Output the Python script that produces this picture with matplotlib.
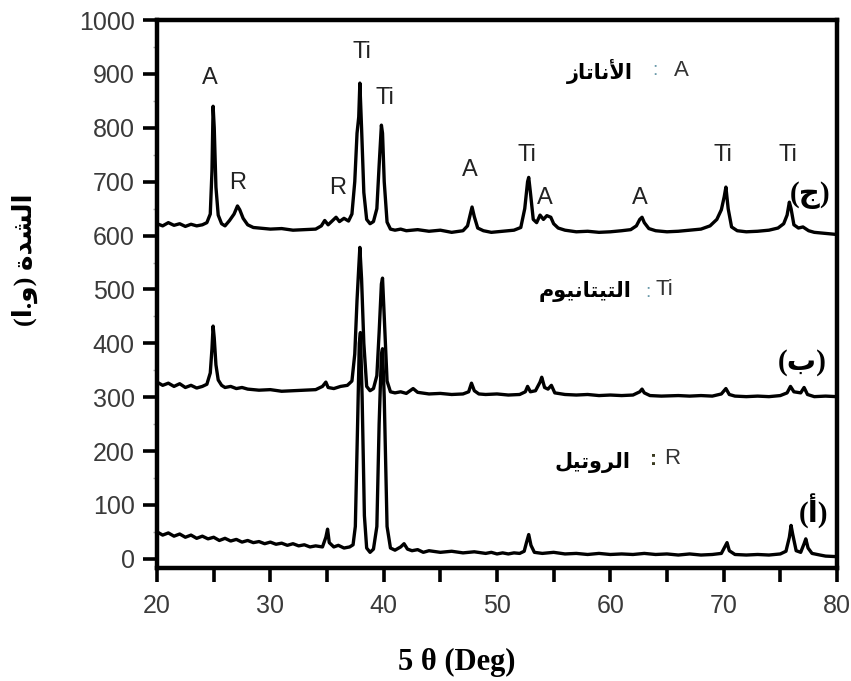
import matplotlib
matplotlib.use("Agg")
import matplotlib.pyplot as plt
from matplotlib.ticker import MultipleLocator

# XRD patterns (2theta in degrees, intensity in a.u.)
# (c) top trace
c_x = [20.0, 20.5, 21.0, 21.5, 22.0, 22.5, 23.0, 23.5, 24.0, 24.4, 24.7, 24.85, 24.95, 25.05,
       25.2, 25.4, 25.7, 26.0, 26.4, 26.8, 27.1, 27.3, 27.6, 28.0, 28.5, 29.0, 30.0, 31.0,
       32.0, 33.0, 34.0, 34.5, 34.8, 35.1, 35.4, 35.8, 36.1, 36.5, 36.9, 37.2, 37.45, 37.65,
       37.8, 37.9, 38.05, 38.25, 38.5, 38.8, 39.1, 39.4, 39.6, 39.8, 39.9, 40.05, 40.3, 40.6,
       41.0, 41.5, 42.0, 43.0, 44.0, 45.0, 46.0, 47.0, 47.4, 47.65, 47.8, 48.0, 48.3, 48.8,
       49.5, 50.5, 51.5, 52.1, 52.45, 52.7, 52.8, 52.95, 53.2, 53.5, 53.8, 54.1, 54.4, 54.75,
       55.0, 55.4, 56.0, 57.0, 58.0, 59.0, 60.0, 61.0, 61.8, 62.3, 62.6, 62.8, 63.0, 63.4,
       64.0, 65.0, 66.0, 67.0, 68.0, 68.8, 69.4, 69.8, 70.05, 70.2, 70.4, 70.7, 71.2, 72.0,
       73.0, 74.0, 74.8, 75.3, 75.6, 75.8, 75.95, 76.2, 76.6, 77.0, 77.5, 78.0, 79.0, 80.0]
c_y = [622, 618, 624, 619, 622, 617, 621, 618, 620, 624, 640, 720, 840, 800,
       690, 638, 622, 618, 628, 640, 655, 648, 632, 620, 615, 614, 612, 613,
       610, 611, 612, 618, 628, 620, 626, 634, 626, 632, 627, 640, 700, 790,
       820, 883, 800, 680, 630, 622, 626, 650, 730, 805, 790, 700, 625, 612,
       610, 612, 609, 611, 608, 610, 606, 609, 618, 640, 653, 635, 614, 609,
       606, 608, 610, 615, 650, 700, 708, 680, 630, 624, 638, 630, 637, 634,
       622, 614, 610, 607, 608, 606, 607, 609, 611, 618, 630, 634, 624, 613,
       609, 607, 608, 610, 612, 618, 630, 648, 672, 690, 650, 616, 609, 607,
       608, 610, 614, 622, 638, 662, 650, 620, 614, 616, 609, 606, 604, 602]

# (b) middle trace
b_x = [20.0, 20.5, 21.0, 21.5, 22.0, 22.5, 23.0, 23.5, 24.0, 24.4, 24.7, 24.85, 24.95, 25.05,
       25.2, 25.4, 25.7, 26.0, 26.5, 27.0, 27.5, 28.0, 29.0, 30.0, 31.0, 32.0, 33.0, 34.0,
       34.6, 34.9, 35.1, 35.6, 36.2, 36.8, 37.2, 37.45, 37.65, 37.8, 37.9, 38.05, 38.25, 38.5,
       38.8, 39.1, 39.4, 39.6, 39.8, 39.9, 40.05, 40.3, 40.6, 41.0, 41.5, 42.0, 42.6, 43.0,
       44.0, 45.0, 46.0, 47.0, 47.5, 47.75, 48.0, 48.4, 49.0, 50.0, 51.0, 52.0, 52.5, 52.7,
       52.95, 53.4, 53.8, 53.95, 54.2, 54.5, 54.8, 55.1, 56.0, 57.0, 58.0, 59.0, 60.0, 61.0,
       62.0, 62.6, 62.8, 63.0, 63.5, 64.5, 66.0, 67.0, 68.0, 69.0, 69.8, 70.2, 70.5, 71.0,
       72.0, 73.0, 74.0, 75.0, 75.6, 75.9, 76.2, 76.8, 77.1, 77.4, 78.0, 79.0, 80.0]
b_y = [328, 322, 326, 320, 325, 318, 322, 317, 320, 324, 345, 390, 432, 410,
       360, 332, 322, 318, 320, 316, 318, 315, 313, 314, 311, 312, 313, 314,
       320, 328, 318, 316, 320, 322, 330, 380, 480, 540, 578, 520, 400, 320,
       312, 316, 340, 420, 510, 521, 450, 330, 310, 308, 310, 307, 316, 309,
       306, 307, 305, 306, 310, 326, 312, 306, 305, 306, 304, 305, 310, 320,
       310, 312, 328, 337, 318, 315, 322, 308, 305, 304, 305, 303, 304, 303,
       304, 310, 315, 308, 303, 302, 303, 302, 303, 302, 306, 316, 305, 302,
       301, 302, 301, 303, 308, 320, 310, 308, 318, 305, 301, 302, 301]

# (a) bottom trace
a_x = [20.0, 20.5, 21.0, 21.5, 22.0, 22.5, 23.0, 23.5, 24.0, 24.5, 25.0, 25.5, 26.0, 26.5,
       27.0, 27.5, 28.0, 28.5, 29.0, 29.5, 30.0, 30.5, 31.0, 31.5, 32.0, 32.5, 33.0, 33.5,
       34.0, 34.6, 34.9, 35.05, 35.2, 35.6, 36.0, 36.5, 37.0, 37.3, 37.5, 37.7, 37.85, 37.95,
       38.1, 38.3, 38.5, 38.8, 39.1, 39.4, 39.6, 39.8, 39.9, 40.05, 40.3, 40.6, 41.0, 41.5,
       41.8, 42.1, 42.5, 43.0, 43.5, 44.0, 45.0, 46.0, 47.0, 48.0, 49.0, 49.5, 50.0, 50.5,
       51.0, 51.5, 52.0, 52.4, 52.6, 52.8, 53.0, 53.3, 54.0, 55.0, 56.0, 57.0, 58.0, 59.0,
       60.0, 61.0, 62.0, 63.0, 64.0, 65.0, 66.0, 67.0, 68.0, 69.0, 69.8, 70.1, 70.3, 70.5,
       71.0, 72.0, 73.0, 74.0, 75.0, 75.5, 75.8, 75.95, 76.1, 76.4, 76.8, 77.1, 77.25, 77.45,
       77.8, 78.5, 79.0, 80.0]
a_y = [50, 44, 48, 42, 46, 40, 44, 38, 42, 37, 40, 34, 38, 33,
       36, 31, 34, 30, 32, 28, 31, 27, 29, 25, 28, 24, 26, 22,
       24, 22, 40, 55, 30, 22, 25, 20, 22, 26, 60, 250, 400, 420,
       300, 80, 20, 12, 18, 60, 250, 380, 390, 300, 60, 20, 16, 22,
       28, 18, 15, 17, 12, 15, 12, 14, 11, 13, 10, 12, 9, 11,
       9, 11, 10, 14, 30, 45, 25, 12, 10, 12, 9, 10, 8, 10,
       8, 9, 8, 10, 8, 9, 7, 9, 7, 8, 10, 22, 30, 15,
       8, 7, 8, 7, 9, 14, 40, 62, 45, 15, 12, 28, 37, 20,
       10, 7, 5, 4]

# peak labels: (text, 2theta, intensity)
peak_labels = [("A", 24.7, 892), ("R", 27.1, 698), ("R", 35.9, 688), ("Ti", 38.1, 941),
               ("Ti", 40.1, 855), ("A", 47.6, 722), ("Ti", 52.6, 750), ("A", 54.2, 670),
               ("A", 62.6, 670), ("Ti", 69.9, 750), ("Ti", 75.7, 750)]

# Arabic words written in presentation forms, in visual (left-to-right) order
anatase = "\uFEAF\uFE8E\uFE97\uFE8E\uFEE7\uFEF7\uFE8D"
titanium = "\uFEE1\uFEEE\uFEF4\uFEE7\uFE8E\uFE98\uFEF4\uFE98\uFEDF\uFE8D"
rutile = "\uFEDE\uFEF4\uFE97\uFEED\uFEAE\uFEDF\uFE8D"
ylab = "(\uFE8D.\uFEED) \uFE93\uFEAA\uFEB8\uFEDF\uFE8D"
curve_names = ["(\uFE9D)", "(\uFE8F)", "(\uFE83)"]

ar_font = ["Liberation Serif", "DejaVu Sans"]
lat_font = "Liberation Sans"

fig = plt.figure(figsize=(8.51, 6.81), dpi=100)
ax = fig.add_axes([0.1845, 0.166, 0.799, 0.8045])

for xs, ys in [(a_x, a_y), (b_x, b_y), (c_x, c_y)]:
    ax.plot(xs, ys, color="black", lw=2.4, solid_joinstyle="round")

ax.set_xlim(20, 80)
ax.set_ylim(-17, 1000)
ax.xaxis.set_major_locator(MultipleLocator(10))
ax.xaxis.set_minor_locator(MultipleLocator(5))
ax.yaxis.set_major_locator(MultipleLocator(100))
ax.yaxis.set_minor_locator(MultipleLocator(50))

for s in ax.spines.values():
    s.set_linewidth(3.2)
ax.tick_params(axis="both", which="major", length=10, width=2.6, labelsize=18,
               labelcolor="#3a3a3a", pad=6)
ax.tick_params(axis="x", which="major", pad=9)
ax.tick_params(axis="x", which="minor", length=10, width=2.6)
ax.tick_params(axis="y", which="minor", length=3, width=1, color="#aaaaaa")
for lab in ax.get_xticklabels() + ax.get_yticklabels():
    lab.set_fontfamily(lat_font)

for txt, px, py in peak_labels:
    ax.text(px, py, txt, fontsize=17, color="#222222", family=lat_font,
            ha="center", va="center")

# legend-like annotations
ax.text(59.1, 905, anatase, fontsize=15, fontweight="bold", family=ar_font, ha="center", va="center")
ax.text(63.9, 907, ":", fontsize=14, color="#6a9aaa", family=lat_font, ha="center", va="center")
ax.text(66.3, 907, "A", fontsize=16, color="#333333", family=lat_font, ha="center", va="center")

ax.text(57.8, 497, titanium, fontsize=15, fontweight="bold", family=ar_font, ha="center", va="center")
ax.text(63.3, 495, ":", fontsize=14, color="#6a9aaa", family=lat_font, ha="center", va="center")
ax.text(64.8, 499, "Ti", fontsize=16, color="#333333", family=lat_font, ha="center", va="center")

ax.text(58.4, 178, rutile, fontsize=15, fontweight="bold", family=ar_font, ha="center", va="center")
ax.text(63.8, 184, ":", fontsize=15, fontweight="bold", color="#3a3a20", family=lat_font, ha="center", va="center")
ax.text(65.5, 187, "R", fontsize=16, color="#333333", family=lat_font, ha="center", va="center")

for name, px, py in zip(curve_names, [77.6, 76.9, 77.9], [675, 364, 87]):
    ax.text(px, py, name, fontsize=21, fontweight="bold", family=ar_font, ha="center", va="center")

fig.text(457 / 851, 1 - 662 / 681, "5 \u03b8 (Deg)", fontsize=22, fontweight="bold",
         family="Liberation Serif", ha="center", va="center")
fig.text(25 / 851, 1 - 260 / 681, ylab, fontsize=19, fontweight="bold", family=ar_font,
         rotation=90, ha="center", va="center")

fig.savefig("out.png", dpi=100)
